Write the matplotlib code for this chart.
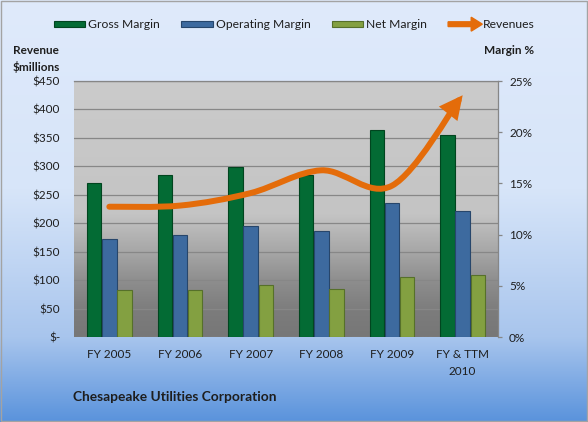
import numpy as np
import matplotlib
matplotlib.use("Agg")
import matplotlib.pyplot as plt
import matplotlib.patches as mpatches
from matplotlib.colors import LinearSegmentedColormap
from matplotlib.path import Path
from matplotlib.legend_handler import HandlerPatch
from matplotlib.ticker import FuncFormatter, MultipleLocator

years = ["FY 2005", "FY 2006", "FY 2007", "FY 2008", "FY 2009", "FY & TTM\n2010"]
gross_margin = [15.0, 15.8, 16.6, 15.8, 20.2, 19.7]      # %
operating_margin = [9.6, 10.0, 10.8, 10.4, 13.1, 12.3]   # %
net_margin = [4.6, 4.6, 5.1, 4.7, 5.9, 6.1]              # %
revenues = [229, 231, 253, 293, 266, 425]                # $ millions

orange = '#e46c0a'
txt = '#1e1e1e'
plt.rcParams['font.family'] = ['Lato', 'DejaVu Sans']
plt.rcParams['font.size'] = 8.5

fig = plt.figure(figsize=(5.88, 4.22), dpi=100)

# background of the whole chart + plot area gradient
L, R, B, T = 74/588, 498/588, (422-337)/422, (422-81)/422
bg = fig.add_axes([0, 0, 1, 1], zorder=-10)
grad = np.linspace(0, 1, 256).reshape(-1, 1)
bg_cmap = LinearSegmentedColormap.from_list(
    "bg", [(0, "#dfeafb"), (0.45, "#d7e5f9"), (0.8, "#a8c5ed"), (1, "#5a93dc")])
plot_cmap = LinearSegmentedColormap.from_list(
    "pa", [(0, "#cbcbcb"), (0.52, "#c4c4c4"), (0.66, "#a8a8a8"),
           (0.78, "#8e8e8e"), (0.9, "#7c7c7c"), (1, "#777777")])
bg.imshow(grad, aspect='auto', cmap=bg_cmap, extent=[0, 1, 0, 1], zorder=0)
bg.imshow(grad, aspect='auto', cmap=plot_cmap, extent=[L, R, B, T], zorder=1)
bg.add_patch(mpatches.Rectangle((0.001, 0.002), 0.997, 0.996, fill=False,
                                ec='#a3a3a3', lw=1, transform=bg.transAxes))
bg.set_xlim(0, 1)
bg.set_ylim(0, 1)
bg.axis('off')

x = np.arange(len(years))

# left axis: revenue $ + gridlines
ax = fig.add_axes([L, B, R-L, T-B])
ax.set_facecolor('none')
ax.set_xlim(-0.5, len(years) - 0.5)
ax.set_ylim(0, 450)
ax.yaxis.set_major_locator(MultipleLocator(50))
ax.yaxis.set_major_formatter(FuncFormatter(lambda v, p: "$-" if v == 0 else "$%d" % v))
ax.grid(axis='y', color='#878787', lw=0.9)
ax.set_axisbelow(True)
ax.set_xticks(x)
ax.set_xticklabels(years, color=txt, linespacing=1.6)
ax.tick_params(axis='x', length=0, pad=9)
ax.tick_params(axis='y', length=0, pad=10, labelcolor=txt)
for s in ['left', 'bottom']:
    ax.spines[s].set_visible(False)
for s in ['top', 'right']:
    ax.spines[s].set_color('#868686')
    ax.spines[s].set_linewidth(0.9)

# right axis: margin % bars
axb = ax.twinx()
axb.set_ylim(0, 25)
axb.yaxis.set_major_locator(MultipleLocator(5))
axb.yaxis.set_major_formatter(FuncFormatter(lambda v, p: "%d%%" % v))
axb.tick_params(axis='y', length=3, width=0.9, color='#868686', pad=5, labelcolor=txt)
for s in axb.spines.values():
    s.set_visible(False)

w, off = 0.205, 0.215
b1 = axb.bar(x - off, gross_margin, w, color='#036b34', edgecolor='#01451f', lw=0.8)
b2 = axb.bar(x, operating_margin, w, color='#3d6a9f', edgecolor='#27466b', lw=0.8)
b3 = axb.bar(x + off, net_margin, w, color='#83a041', edgecolor='#56702a', lw=0.8)

# revenue curve on top (smoothed like Excel)
axl = ax.twinx()
axl.set_ylim(ax.get_ylim())
axl.set_yticks([])
for s in axl.spines.values():
    s.set_visible(False)

pts = np.column_stack([x, revenues]).astype(float)
pad = np.vstack([pts[0], pts, pts[-1]])
verts = [pts[0]]
codes = [Path.MOVETO]
for i in range(len(pts) - 1):
    p0, p1, p2, p3 = pad[i], pad[i+1], pad[i+2], pad[i+3]
    verts += [p1 + (p2 - p0) / 6, p2 - (p3 - p1) / 6, p2]
    codes += [Path.CURVE4] * 3
curve = mpatches.FancyArrowPatch(
    path=Path(verts, codes),
    arrowstyle=mpatches.ArrowStyle('-|>', head_length=0.5, head_width=0.25),
    mutation_scale=20, color=orange, lw=4.3, capstyle='round', joinstyle='miter')
axl.add_patch(curve)


# legend
def make_arrow(legend, orig_handle, xdescent, ydescent, width, height, fontsize):
    return mpatches.FancyArrow(-xdescent, height / 2 - ydescent, width + 2, 0,
                               width=3.4, head_width=10, head_length=8,
                               length_includes_head=True, color=orange)


rev_handle = mpatches.Patch(color=orange)
fig.legend([b1, b2, b3, rev_handle],
           ["Gross Margin", "Operating Margin", "Net Margin", "Revenues"],
           loc='center left', bbox_to_anchor=(54/588, 1 - 25/422), ncol=4,
           frameon=False, handlelength=2.6, handleheight=0.4, fontsize=8.7,
           handletextpad=0.25, columnspacing=1.75, borderpad=0, borderaxespad=0,
           labelcolor=txt, handler_map={rev_handle: HandlerPatch(patch_func=make_arrow)})

fig.text(13/588, 1 - 50/422, "Revenue", fontweight='bold', color=txt, va='center')
fig.text(13/588, 1 - 67/422, "$millions", fontweight='bold', color=txt, va='center')
fig.text(484/588, 1 - 50/422, "Margin %", fontweight='bold', color=txt, va='center')
fig.text(73/588, 1 - 397/422, "Chesapeake Utilities Corporation", fontweight='bold',
         fontsize=9.9, color=txt, va='center')

fig.savefig("out.png", dpi=100)
